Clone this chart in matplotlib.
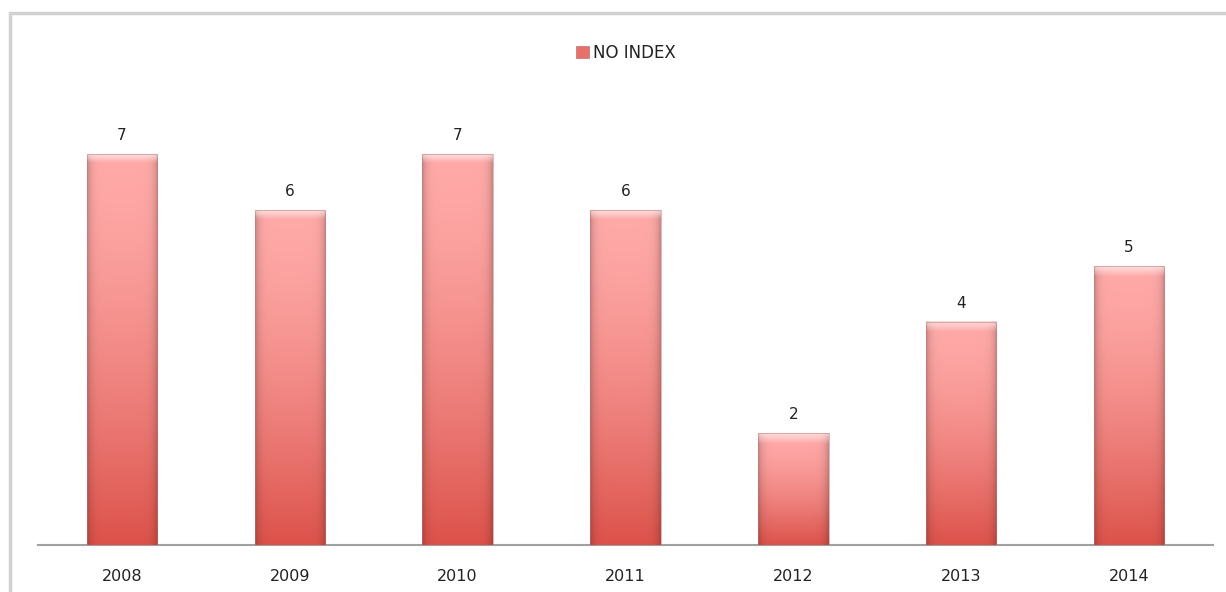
import numpy as np
import matplotlib
matplotlib.use("Agg")
import matplotlib.pyplot as plt
from matplotlib.patches import Rectangle, Patch

# data
years = ["2008", "2009", "2010", "2011", "2012", "2013", "2014"]
values = [7, 6, 7, 6, 2, 4, 5]
series_name = "NO INDEX"

W, H = 1226, 592
fig = plt.figure(figsize=(W / 100, H / 100), dpi=100)
ax = fig.add_axes([38 / W, 1 - 545 / H, (1213 - 38) / W, (545 - 98.6) / H])

x = np.arange(len(years))
bars = ax.bar(x, values, width=0.42, color="#f08080", edgecolor="none", zorder=2)

# gradient fill per bar (light pink top -> red bottom, darker edges, top gloss)
top_c = np.array([255, 170, 168]) / 255
bot_c = np.array([220, 82, 74]) / 255
ny, nx = 200, 60
t = (np.linspace(0, 1, ny) ** 1.5)[:, None, None]   # 0 = top row
img = top_c * (1 - t) + bot_c * t
img = np.repeat(img, nx, axis=1)
u = np.linspace(0, 1, nx)
edge = np.clip(1 - 0.2 * (np.abs(u - 0.5) * 2) ** 8, 0, 1)
img = img * edge[None, :, None]
for b in bars:
    x0, y0 = b.get_x(), b.get_y()
    w, h = b.get_width(), b.get_height()
    im = img.copy()
    # gloss near the top (fixed pixel height)
    gloss_rows = int(ny * 0.2 / h)
    if gloss_rows > 0:
        g = np.linspace(0.6, 0, gloss_rows)[:, None, None]
        im[:gloss_rows] = im[:gloss_rows] * (1 - g) + g
    ax.imshow(np.clip(im, 0, 1), extent=[x0, x0 + w, y0, y0 + h], aspect="auto",
              zorder=3, clip_path=b, clip_on=True, interpolation="bilinear")
    ax.add_patch(Rectangle((x0, y0), w, h, fill=False, edgecolor="#b87a7a",
                           linewidth=0.8, alpha=0.5, zorder=4))
    ax.text(x0 + w / 2, y0 + h + 0.2, str(int(h)), ha="center", va="bottom",
            fontsize=11, color="#222222", zorder=5)

ax.set_xlim(-0.5, len(years) - 0.5)
ax.set_ylim(0, 8)
ax.set_xticks(x)
ax.set_xticklabels(years, fontsize=11.5, color="#222222")
ax.tick_params(axis="x", length=0, pad=17)
ax.set_yticks([])
for s in ["top", "right", "left"]:
    ax.spines[s].set_visible(False)
ax.spines["bottom"].set_color("#a0a0a0")
ax.spines["bottom"].set_linewidth(1.5)
ax.set_facecolor("none")

# legend
handle = Patch(facecolor="#e8706a", edgecolor="#c07070", linewidth=0.5)
fig.legend([handle], [series_name], loc="center", bbox_to_anchor=(626 / W, 1 - 53 / H),
           frameon=False, fontsize=12, handlelength=0.75, handleheight=0.75,
           handletextpad=0.25, labelcolor="#222222")

# outer frame
fig.patches.append(Rectangle((10 / W, -0.1), 1.2, (1 - 13 / H) + 0.1, transform=fig.transFigure,
                             fill=False, edgecolor="#d2d2d2", linewidth=2.5, zorder=0))

fig.savefig("out.png", dpi=100)
